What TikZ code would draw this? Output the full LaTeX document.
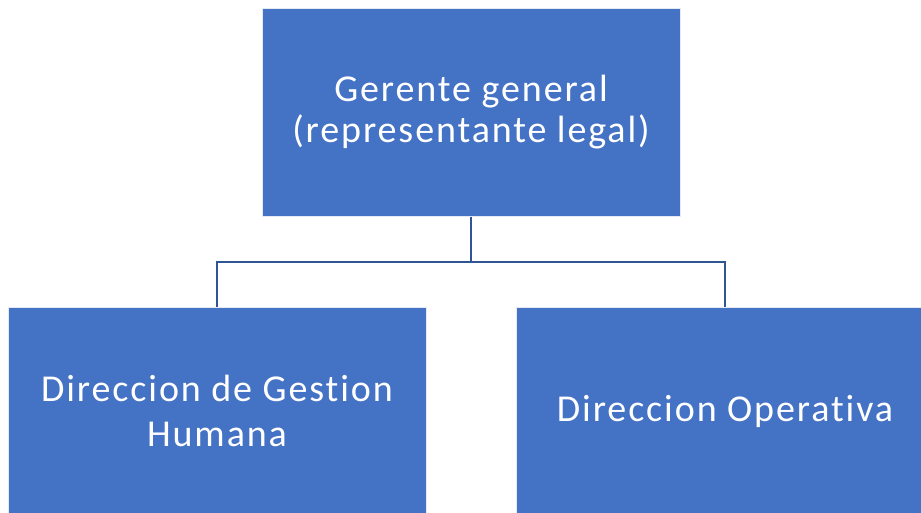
\documentclass[tikz,border=0pt]{standalone}
\usepackage{fontspec}
\setmainfont{Carlito}[Ligatures=NoCommon,LetterSpace=5]
\definecolor{boxblue}{HTML}{4472C4}
\definecolor{lineblue}{HTML}{2F5597}
\begin{document}
\begin{tikzpicture}[x=1pt,y=-1pt,
  orgbox/.style={draw=white!85!boxblue,line width=1pt,fill=boxblue,text=white,
    minimum width=418pt,minimum height=208pt,inner sep=0pt,align=center},
  conn/.style={draw=lineblue,line width=2pt}]
\clip (0,0) rectangle (921,512);
\node[orgbox,font=\fontsize{38}{41}\selectfont] (top) at (471,112) {Gerente general\\(representante legal)};
\node[orgbox,font=\fontsize{38}{45}\selectfont] (left) at (217,411) {Direccion de Gestion\\Humana};
\node[orgbox,font=\fontsize{38}{45}\selectfont] (right) at (725,411) {Direccion Operativa};
\coordinate (mid) at (471,262);
\draw[conn] (top.south) -- (mid) -| (left.north);
\draw[conn] (mid) -| (right.north);
\end{tikzpicture}
\end{document}
